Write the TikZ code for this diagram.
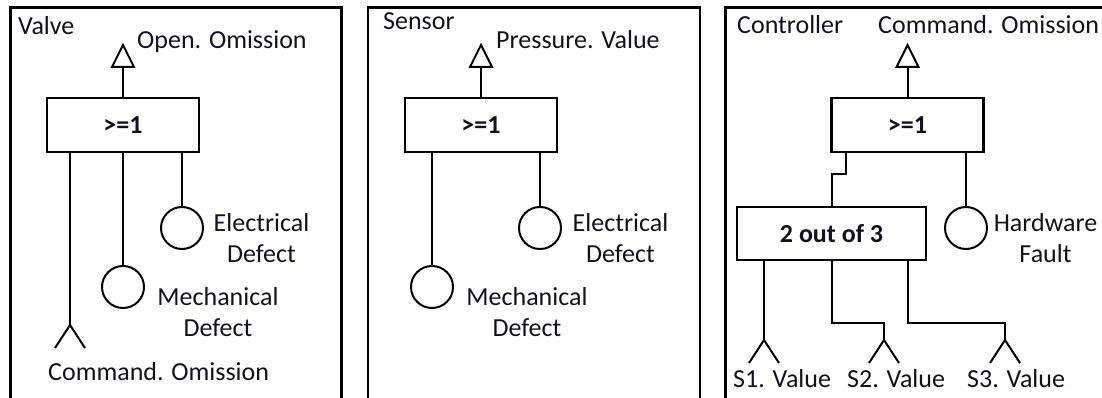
\documentclass[tikz,border=0pt]{standalone}
\usepackage{fontspec}
\setmainfont{Carlito}
\usepackage{tikz}
\usetikzlibrary{arrows.meta, positioning, calc}
\definecolor{ftline}{HTML}{000000}
\definecolor{fttext}{HTML}{111122}
\newcommand{\ftsize}{\fontsize{26}{31}\selectfont}
\tikzset{
  panel/.style   = {draw=ftline, line width=2.4pt},
  gate/.style    = {draw=ftline, line width=2.4pt, rectangle, inner sep=0pt,
                    font=\ftsize\bfseries, text=fttext,
                    minimum width=152pt, minimum height=54pt},
  basic/.style   = {draw=ftline, line width=2pt, circle, inner sep=0pt,
                    minimum size=42pt},
  lbl/.style     = {font=\ftsize, text=fttext, inner sep=0pt, align=center},
  wire/.style    = {draw=ftline, line width=2pt},
  outport/.pic   = {\draw[wire, line join=miter] (0,0) -- (-11,0) -- (0,-22) -- (11,0) -- cycle;},
  inport/.pic    = {\draw[wire] (-15,23) -- (0,0) -- (15,23);},
}

\begin{document}
\begin{tikzpicture}[x=1pt, y=-1pt]
        \useasboundingbox (0,0) rectangle (1102,398);
        % the three components
        \draw[panel] (10.5,420) |- (341.5,7.5) -- (341.5,420);
        \draw[panel] (368,420) |- (700,7.5) -- (700,420);
        \draw[panel] (725.5,420) |- (1120,7.5);

        % Valve
        \node[lbl, anchor=base west] (vname) at (18,35) {Valve};
        \node[gate] (vor) at (123,125) {>=1};
        \coordinate (vout) at (123,67);
        \node[lbl, anchor=base west] (vtop) at (137,49) {Open. Omission};
        \node[basic] (vel) at (182,228) {};
        \node[basic] (vme) at (123,287) {};
        \coordinate (vcmd) at (70,325);
        \node[lbl] (velt) at (261.5,238.5) {Electrical\\Defect};
        \node[lbl] (vmec) at (218,312) {Mechanical\\Defect};
        \node[lbl, anchor=base west] (vin) at (48,380) {Command. Omission};
        \draw[wire] (vor.north) -- (vout);
        \pic at (vout) {outport};
        \draw[wire] (vel) -- (vel |- vor.south);
        \draw[wire] (vme) -- (vme |- vor.south);
        \draw[wire] (vcmd) -- (vcmd |- vor.south);
        \pic at (vcmd) {inport};

        % Sensor
        \node[lbl, anchor=base west] (sname) at (383,30) {Sensor};
        \node[gate] (sor) at (481,125) {>=1};
        \coordinate (sout) at (481,67);
        \node[lbl, anchor=base west] (stop) at (496,49) {Pressure. Value};
        \node[basic] (sel) at (540,228) {};
        \node[basic] (sme) at (432,287) {};
        \node[lbl] (selt) at (620.5,238.5) {Electrical\\Defect};
        \node[lbl] (smec) at (527,312) {Mechanical\\Defect};
        \draw[wire] (sor.north) -- (sout);
        \pic at (sout) {outport};
        \draw[wire] (sel) -- (sel |- sor.south);
        \draw[wire] (sme) -- (sme |- sor.south);

        % Controller
        \node[lbl, anchor=base west] (cname) at (737,34) {Controller};
        \node[gate] (cor) at (907.5,125) {>=1};
        \coordinate (cout) at (907.5,67);
        \node[lbl, anchor=base west] (ctop) at (878,34) {Command. Omission};
        \node[gate, minimum width=189pt, minimum height=53pt] (cvote) at (831.5,233.5) {2 out of 3};
        \node[basic] (chw) at (966,228) {};
        \node[lbl] (chwt) at (1045.5,238.5) {Hardware\\Fault};
        \coordinate (s1in) at (764,340);
        \coordinate (s2in) at (884,340);
        \coordinate (s3in) at (1005,340);
        \node[lbl, anchor=base west] (s1) at (733,387) {S1. Value};
        \node[lbl, anchor=base west] (s2) at (847,387) {S2. Value};
        \node[lbl, anchor=base west] (s3) at (967,387) {S3. Value};
        \draw[wire] (cor.north) -- (cout);
        \pic at (cout) {outport};
        \draw[wire] (chw) -- (chw |- cor.south);
        \draw[wire] (cvote.north) |- ($(cor.south west)+(16,21)$) -- ($(cor.south west)+(16,0)$);
        \draw[wire] (s1in) -- (s1in |- cvote.south);
        \draw[wire] (cvote.south) |- ($(s2in)+(0,-17)$) -- (s2in);
        \draw[wire] ($(cvote.south)+(76.5,0)$) |- ($(s3in)+(0,-17)$) -- (s3in);
        \foreach \p in {s1in, s2in, s3in}
            \pic at (\p) {inport};
    \end{tikzpicture}
\end{document}
